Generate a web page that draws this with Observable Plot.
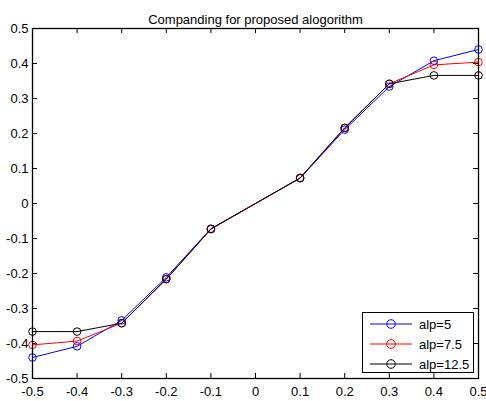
<!DOCTYPE html>
<html>
<head>
<meta charset="utf-8">
<script src="https://cdn.jsdelivr.net/npm/d3@7"></script>
<script src="https://cdn.jsdelivr.net/npm/@observablehq/plot@0.6"></script>
<style>
  body { margin: 0; background: #fff; }
  #wrap { position: relative; width: 486px; height: 401px; font-family: "Liberation Sans", Arial, sans-serif; }
  #legend { position: absolute; left: 362px; top: 312px; width: 112px; height: 61px; background: #fff; border: 1px solid #000; box-sizing: border-box; font-size: 13px; }
  .row { position: absolute; left: 0; height: 20px; display: flex; align-items: center; }
  .row svg { display: block; }
  .row span { margin-left: 4px; color: #000; }
</style>
</head>
<body>
<div id="wrap"></div>
<script>
const title = "Companding for proposed alogorithm";
const xs = [-0.5, -0.4, -0.3, -0.2, -0.1, 0.1, 0.2, 0.3, 0.4, 0.5];
const alp5 = [-0.44, -0.408, -0.334, -0.211, -0.072, 0.072, 0.211, 0.334, 0.408, 0.44];
const alp75 = [-0.404, -0.393, -0.342, -0.216, -0.073, 0.073, 0.216, 0.342, 0.396, 0.404];
const alp125 = [-0.366, -0.366, -0.342, -0.216, -0.073, 0.073, 0.216, 0.342, 0.366, 0.366];
const seriesNames = ["alp=5", "alp=7.5", "alp=12.5"];
const seriesColors = ["#0000ff", "#ff0000", "#000000"];
const xTicks = [-0.5, -0.4, -0.3, -0.2, -0.1, 0, 0.1, 0.2, 0.3, 0.4, 0.5];
const yTicks = [-0.5, -0.4, -0.3, -0.2, -0.1, 0, 0.1, 0.2, 0.3, 0.4, 0.5];
const xTickLabels = ["-0.5", "-0.4", "-0.3", "-0.2", "-0.1", "0", "0.1", "0.2", "0.3", "0.4", "0.5"];
const yTickLabels = ["-0.5", "-0.4", "-0.3", "-0.2", "-0.1", "0", "0.1", "0.2", "0.3", "0.4", "0.5"];

const seriesValues = [alp5, alp75, alp125];
const data = [];
seriesValues.forEach((vals, i) => vals.forEach((v, j) => data.push({x: xs[j], y: v, s: seriesNames[i]})));

const W = 486, H = 401, mL = 32, mR = 8, mT = 28, mB = 23;
const innerW = W - mL - mR, innerH = H - mT - mB;
const tickLen = 5;
const fmtX = d => xTickLabels[xTicks.findIndex(t => Math.abs(t - d) < 1e-9)];
const fmtY = d => yTickLabels[yTicks.findIndex(t => Math.abs(t - d) < 1e-9)];

const chart = Plot.plot({
  width: W, height: H,
  marginLeft: mL, marginRight: mR, marginTop: mT, marginBottom: mB,
  style: {fontFamily: "'Liberation Sans', Arial, sans-serif", fontSize: "13px", color: "#000", background: "#fff"},
  x: {domain: [-0.5, 0.5]},
  y: {domain: [-0.5, 0.5]},
  color: {domain: seriesNames, range: seriesColors},
  marks: [
    Plot.axisX({ticks: xTicks, tickFormat: fmtX, tickSize: 0, tickPadding: 8, label: null, fontSize: 13}),
    Plot.axisY({ticks: yTicks, tickFormat: fmtY, tickSize: 0, tickPadding: 4, label: null, fontSize: 13}),
    Plot.tickX(xTicks, {x: d => d, insetTop: innerH - tickLen, stroke: "#000"}),
    Plot.tickX(xTicks, {x: d => d, insetBottom: innerH - tickLen, stroke: "#000"}),
    Plot.tickY(yTicks, {y: d => d, insetRight: innerW - tickLen, stroke: "#000"}),
    Plot.tickY(yTicks, {y: d => d, insetLeft: innerW - tickLen, stroke: "#000"}),
    Plot.line(data, {x: "x", y: "y", z: "s", stroke: "s", strokeWidth: 1}),
    Plot.dot(data, {x: "x", y: "y", stroke: "s", r: 3.8, strokeWidth: 1, fill: "none"}),
    Plot.frame({stroke: "#000", strokeWidth: 1.3}),
    Plot.text([title], {frameAnchor: "top", dy: -14, fontSize: 13, fill: "#000"})
  ]
});
const wrap = document.getElementById("wrap");
wrap.appendChild(chart);

const legend = document.createElement("div");
legend.id = "legend";
seriesNames.forEach((name, i) => {
  const row = document.createElement("div");
  row.className = "row";
  row.style.top = (1 + i * 20) + "px";
  row.innerHTML = `<svg width="52" height="20"><line x1="7" x2="49" y1="10" y2="10" stroke="${seriesColors[i]}" stroke-width="1"/><circle cx="28" cy="10" r="4.3" fill="none" stroke="${seriesColors[i]}" stroke-width="1"/></svg><span>${name}</span>`;
  legend.appendChild(row);
});
wrap.appendChild(legend);
</script>
</body>
</html>
